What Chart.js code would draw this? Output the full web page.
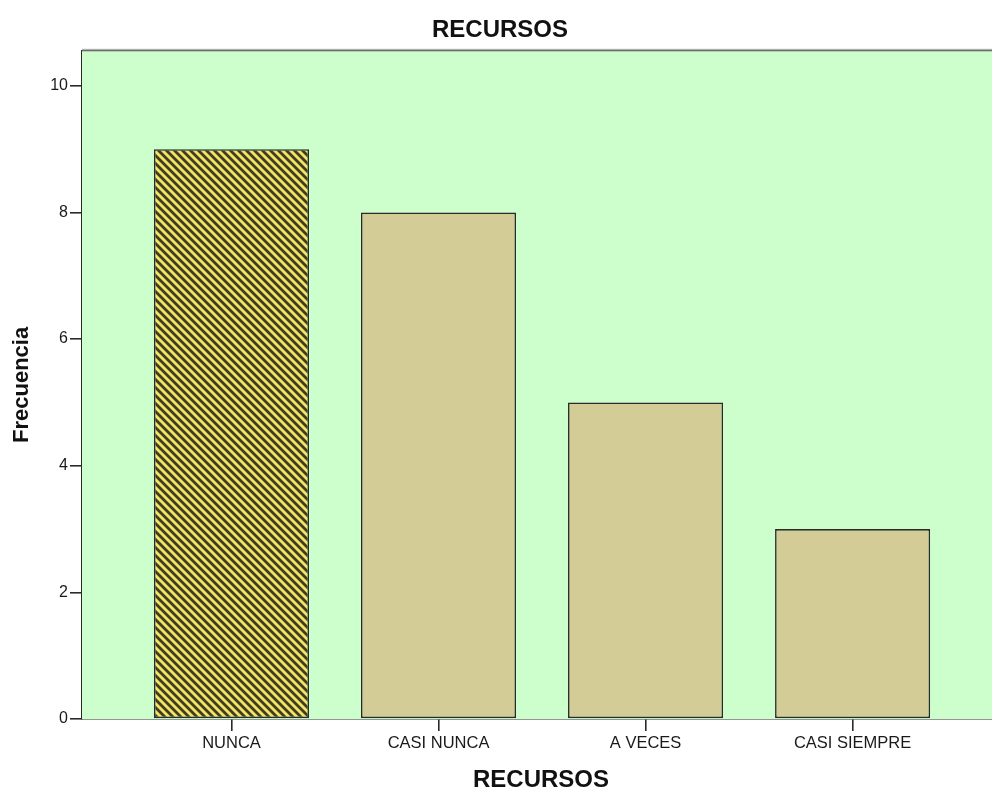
<!DOCTYPE html>
<html>
<head>
<meta charset="utf-8">
<title>RECURSOS</title>
<script src="https://cdn.jsdelivr.net/npm/chart.js@4/dist/chart.umd.min.js"></script>
<style>
  html, body { margin: 0; padding: 0; background: #ffffff; overflow: hidden; }
  #wrap { width: 1000px; height: 792px; }
</style>
</head>
<body>
<div id="wrap"><canvas id="chart" width="1000" height="792"></canvas></div>
<script>
// Categories and counts
const categories = ['NUNCA', 'CASI NUNCA', 'A VECES', 'CASI SIEMPRE'];
const frecuencias = [9, 8, 5, 3];
const yTickValues = [0, 2, 4, 6, 8, 10];

const FONT = '"Liberation Sans", Arial, Helvetica, sans-serif';

// Diagonal hatch used for the first bar
function makeHatch() {
  const size = 8;
  const c = document.createElement('canvas');
  c.width = size; c.height = size;
  const g = c.getContext('2d');
  g.fillStyle = '#f0e462';
  g.fillRect(0, 0, size, size);
  g.strokeStyle = '#403c24';
  g.lineWidth = 2.8;
  g.beginPath();
  for (const k of [-size, 0, size]) {
    g.moveTo(k - 1, -1);
    g.lineTo(k + size + 1, size + 1);
  }
  g.stroke();
  return g.createPattern(c, 'repeat');
}

const ctx = document.getElementById('chart').getContext('2d');
const hatch = makeHatch();
const barColors = categories.map((_, i) => i === 0 ? hatch : '#d4cc97');

// Green plot background and the grey frame line along its top
const plotFrame = {
  id: 'plotFrame',
  beforeDatasetsDraw(chart) {
    const { ctx, chartArea: a } = chart;
    ctx.save();
    ctx.fillStyle = '#ccffcc';
    ctx.fillRect(a.left, a.top, a.right - a.left, a.bottom - a.top);
    ctx.fillStyle = '#b4b4b4';
    ctx.fillRect(a.left, a.top - 2, a.right - a.left, 1);
    ctx.fillStyle = '#6c6c6c';
    ctx.fillRect(a.left, a.top - 1, a.right - a.left, 1.5);
    ctx.restore();
  }
};

new Chart(ctx, {
  type: 'bar',
  data: {
    datasets: [{
      label: 'Frecuencia',
      data: frecuencias.map((v, i) => ({ x: i, y: v })),
      backgroundColor: barColors,
      borderColor: '#2a2a2a',
      borderWidth: 1.6,
      borderSkipped: false,
      categoryPercentage: 1,
      barPercentage: 0.749
    }]
  },
  options: {
    responsive: false,
    animation: false,
    devicePixelRatio: 1,
    layout: { padding: 0 },
    plugins: {
      legend: { display: false },
      tooltip: { enabled: false },
      title: {
        display: true,
        text: 'RECURSOS',
        color: '#111111',
        font: { family: FONT, size: 24, weight: 'bold', lineHeight: 1.2 },
        padding: { top: 16, bottom: 6 }
      }
    },
    scales: {
      x: {
        type: 'linear',
        offset: false,
        min: -0.722,
        max: 3.712,
        afterBuildTicks(scale) {
          scale.ticks = categories.map((_, i) => ({ value: i }));
        },
        afterFit(scale) { scale.height = 73; },
        ticks: {
          autoSkip: false,
          maxRotation: 0,
          padding: 3,
          color: '#1a1a1a',
          font: { family: FONT, size: 16.5 },
          callback: (v) => categories[v]
        },
        grid: {
          offset: false,
          drawOnChartArea: false,
          drawTicks: true,
          tickLength: 12,
          color: '#2a2a2a',
          lineWidth: 1.6
        },
        border: { display: true, color: '#2a2a2a', width: 1.6 },
        title: {
          display: true,
          text: 'RECURSOS',
          color: '#111111',
          font: { family: FONT, size: 24, weight: 'bold', lineHeight: 1 },
          padding: { top: 0, bottom: 0 }
        }
      },
      y: {
        type: 'linear',
        min: 0,
        max: 10.553,
        afterBuildTicks(scale) {
          scale.ticks = yTickValues.map(v => ({ value: v }));
        },
        afterFit(scale) { scale.width = 82; },
        ticks: {
          padding: 2,
          color: '#1a1a1a',
          font: { family: FONT, size: 16 }
        },
        grid: {
          drawOnChartArea: false,
          drawTicks: true,
          tickLength: 12,
          color: '#2a2a2a',
          lineWidth: 1.6
        },
        border: { display: true, color: '#2a2a2a', width: 1.6 },
        title: {
          display: true,
          text: 'Frecuencia',
          color: '#111111',
          font: { family: FONT, size: 22, weight: 'bold', lineHeight: 1.2 },
          padding: { top: 9, bottom: 0 }
        }
      }
    }
  },
  plugins: [plotFrame]
});
</script>
</body>
</html>
